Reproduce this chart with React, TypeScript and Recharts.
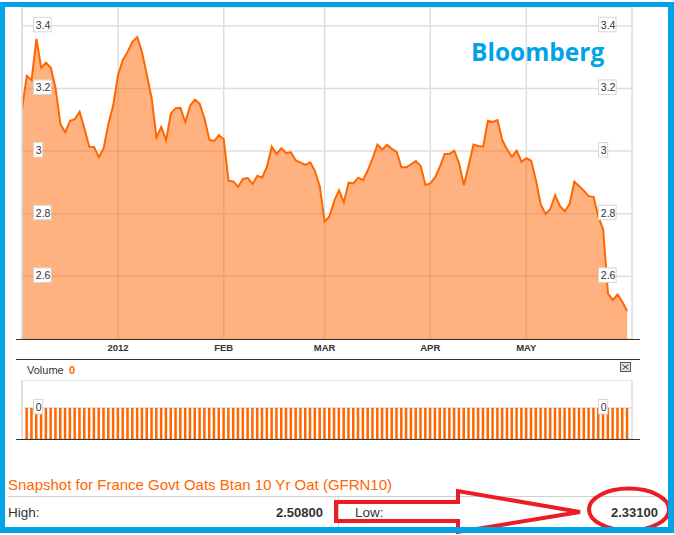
import { Area, AreaChart, Bar, BarChart, CartesianGrid, ReferenceLine, XAxis, YAxis } from 'recharts';

// France Govt Oat 10Y yield, one value per trading day, Dec 2011 - May 2012
const yields = [
  3.134, 3.240, 3.227, 3.358, 3.266, 3.282, 3.266, 3.200, 3.086, 3.060,
  3.097, 3.102, 3.125, 3.072, 3.014, 3.013, 2.980, 3.009, 3.087, 3.147,
  3.243, 3.291, 3.317, 3.349, 3.364, 3.315, 3.243, 3.168, 3.043, 3.077,
  3.035, 3.120, 3.137, 3.138, 3.092, 3.145, 3.164, 3.151, 3.104, 3.036,
  3.032, 3.051, 3.038, 2.905, 2.903, 2.886, 2.911, 2.914, 2.895, 2.921,
  2.915, 2.950, 3.014, 2.991, 3.009, 2.994, 2.996, 2.970, 2.963, 2.956,
  2.964, 2.936, 2.887, 2.775, 2.791, 2.840, 2.875, 2.837, 2.899, 2.897,
  2.915, 2.907, 2.939, 2.977, 3.021, 3.005, 3.020, 3.007, 2.997, 2.948,
  2.948, 2.958, 2.968, 2.952, 2.892, 2.897, 2.916, 2.950, 2.991, 2.991,
  3.001, 2.961, 2.891, 2.955, 3.021, 3.016, 3.014, 3.097, 3.093, 3.099,
  3.035, 3.005, 2.982, 3.001, 2.966, 2.977, 2.969, 2.907, 2.830, 2.799,
  2.815, 2.859, 2.824, 2.808, 2.831, 2.902, 2.888, 2.873, 2.856, 2.854,
  2.790, 2.750, 2.545, 2.524, 2.542, 2.518, 2.489,
];

// volume is 0 every day (no bar on the first day)
const volumes: (number | null)[] = [
  null, 0, 0, 0, 0, 0, 0, 0, 0, 0,
  0, 0, 0, 0, 0, 0, 0, 0, 0, 0,
  0, 0, 0, 0, 0, 0, 0, 0, 0, 0,
  0, 0, 0, 0, 0, 0, 0, 0, 0, 0,
  0, 0, 0, 0, 0, 0, 0, 0, 0, 0,
  0, 0, 0, 0, 0, 0, 0, 0, 0, 0,
  0, 0, 0, 0, 0, 0, 0, 0, 0, 0,
  0, 0, 0, 0, 0, 0, 0, 0, 0, 0,
  0, 0, 0, 0, 0, 0, 0, 0, 0, 0,
  0, 0, 0, 0, 0, 0, 0, 0, 0, 0,
  0, 0, 0, 0, 0, 0, 0, 0, 0, 0,
  0, 0, 0, 0, 0, 0, 0, 0, 0, 0,
  0, 0, 0, 0, 0, 0, 0,
];

const monthTicks = [20, 42, 63, 85, 105];
const monthLabels = ['2012', 'FEB', 'MAR', 'APR', 'MAY'];
const priceTicks = [2.6, 2.8, 3, 3.2, 3.4];
const volumeTicks = [0];

const title = 'Snapshot for France Govt Oats Btan 10 Yr Oat (GFRN10)';
const high = '2.50800';
const low = '2.33100';

const VOLUME_FLOOR = -1;
const FONT = '"Liberation Sans", Arial, Helvetica, sans-serif';
const ORANGE = '#ff6600';
const GRID = '#dedede';

const data = yields.map((value, i) => ({ day: i, yield: value, volume: volumes[i] }));

function BoxTick(props: any) {
  const { y, payload } = props;
  const label = String(payload.value);
  const w = 5 + label.length * 4.2;
  return (
    <g>
      {[33, 598].map((bx) => (
        <g key={bx}>
          <rect x={bx + 0.5} y={y - 8.5} width={w} height={14.5} fill="#fff" stroke="#d6d6d6" />
          <text x={bx + 2.8} y={y - 1.2} dominantBaseline="central" fontSize={10.5} fontFamily={FONT} fill="#333">
            {label}
          </text>
        </g>
      ))}
    </g>
  );
}

function MonthTick(props: any) {
  const { x, payload } = props;
  const label = monthLabels[monthTicks.indexOf(payload.value)] ?? '';
  return (
    <text x={x} y={347.5} textAnchor="middle" dominantBaseline="central" fontSize={9.5} fontWeight="bold" fontFamily={FONT} fill="#333">
      {label}
    </text>
  );
}

const hLine = (top: number, left: number, width: number, color: string) => (
  <div style={{ position: 'absolute', top, left, width, height: 1, background: color }} />
);

export default function App() {
  return (
    <div style={{ position: 'absolute', left: 0, top: 0, width: 674, height: 535, background: '#fff', overflow: 'hidden', fontFamily: FONT }}>
      <div style={{ position: 'absolute', left: 0, top: 0 }}>
        <AreaChart width={674} height={360} data={data} margin={{ top: 7, right: 42, bottom: 0, left: 2 }}>
          <CartesianGrid stroke={GRID} strokeWidth={1.5} />
          <ReferenceLine x={0} stroke={GRID} strokeWidth={1.5} />
          <Area
            type="linear"
            dataKey="yield"
            stroke={ORANGE}
            strokeWidth={2}
            fill={ORANGE}
            fillOpacity={0.5}
            dot={false}
            activeDot={false}
            isAnimationActive={false}
          />
          <XAxis
            dataKey="day"
            type="number"
            domain={[0, 127]}
            ticks={monthTicks}
            interval={0}
            height={21}
            axisLine={false}
            tickLine={false}
            tick={<MonthTick />}
            allowDataOverflow
          />
          <YAxis
            type="number"
            domain={[2.4, 3.46]}
            ticks={priceTicks}
            interval={0}
            width={20}
            axisLine={false}
            tickLine={false}
            tick={<BoxTick />}
            allowDataOverflow
          />
        </AreaChart>
      </div>

      <div style={{ position: 'absolute', left: 0, top: 380 }}>
        <BarChart width={674} height={59} data={data} margin={{ top: 0, right: 42, bottom: 0, left: 2 }}>
          <CartesianGrid stroke={GRID} strokeWidth={1.5} />
          <ReferenceLine x={0} stroke={GRID} strokeWidth={1.5} />
          <Bar
            dataKey={(d: any) => (d.volume === null ? null : [VOLUME_FLOOR, d.volume])}
            fill={ORANGE}
            barSize={2.5}
            isAnimationActive={false}
          />
          <XAxis
            dataKey="day"
            type="number"
            domain={[0, 127]}
            ticks={monthTicks}
            interval={0}
            height={0}
            axisLine={false}
            tickLine={false}
            tick={false}
            allowDataOverflow
          />
          <YAxis
            type="number"
            domain={[VOLUME_FLOOR, 0.9]}
            ticks={volumeTicks}
            interval={0}
            width={20}
            axisLine={false}
            tickLine={false}
            tick={<BoxTick />}
            allowDataOverflow
          />
        </BarChart>
      </div>

      {hLine(339, 16, 624, '#333')}
      {hLine(359, 16, 624, '#333')}
      {hLine(439, 16, 624, '#333')}
      {hLine(496, 8, 652, '#cfcfcf')}
      {hLine(527, 8, 652, '#cfcfcf')}
      <div style={{ position: 'absolute', top: 497, left: 338, width: 1, height: 30, background: '#cfcfcf' }} />

      <svg width={674} height={535} style={{ position: 'absolute', left: 0, top: 0, pointerEvents: 'none' }}>
        <text x={471} y={61} fontSize={24.5} fontWeight={700} fontFamily='"Open Sans", sans-serif' fill="#00a2e8">
          Bloomberg
        </text>

        <text x={27} y={374} fontSize={11} fontFamily={FONT} fill="#333">Volume</text>
        <text x={69} y={374} fontSize={11} fontWeight="bold" fontFamily={FONT} fill={ORANGE}>0</text>
        <rect x={620.5} y={362.5} width={10} height={9} fill="#e4e4e4" stroke="#555" />
        <line x1={622.5} y1={364.5} x2={628.5} y2={369.5} stroke="#333" />
        <line x1={628.5} y1={364.5} x2={622.5} y2={369.5} stroke="#333" />

        <text x={8} y={490} fontSize={15} fontFamily={FONT} fill={ORANGE}>{title}</text>
        <text x={8} y={517} fontSize={13.5} fontFamily={FONT} fill="#333">High:</text>
        <text x={323} y={517} textAnchor="end" fontSize={13} fontWeight="bold" fontFamily={FONT} fill="#333">{high}</text>
        <text x={355} y={517} fontSize={13.5} fontFamily={FONT} fill="#333">Low:</text>
        <text x={658} y={517} textAnchor="end" fontSize={13} fontWeight="bold" fontFamily={FONT} fill="#333">{low}</text>

        <polygon
          points="336,502 458,502 458,491 580,512 458,532 458,521 336,521"
          fill="none"
          stroke="#ed1c24"
          strokeWidth={4}
          strokeLinejoin="miter"
        />
        <ellipse cx={629} cy={509.5} rx={40} ry={21} fill="none" stroke="#ed1c24" strokeWidth={4} />
      </svg>

      <div
        style={{
          position: 'absolute',
          left: 0,
          top: 2,
          width: 674,
          height: 531,
          boxSizing: 'border-box',
          borderStyle: 'solid',
          borderColor: '#00a2e8',
          borderWidth: '5px 6px 6px 5px',
        }}
      />
    </div>
  );
}
